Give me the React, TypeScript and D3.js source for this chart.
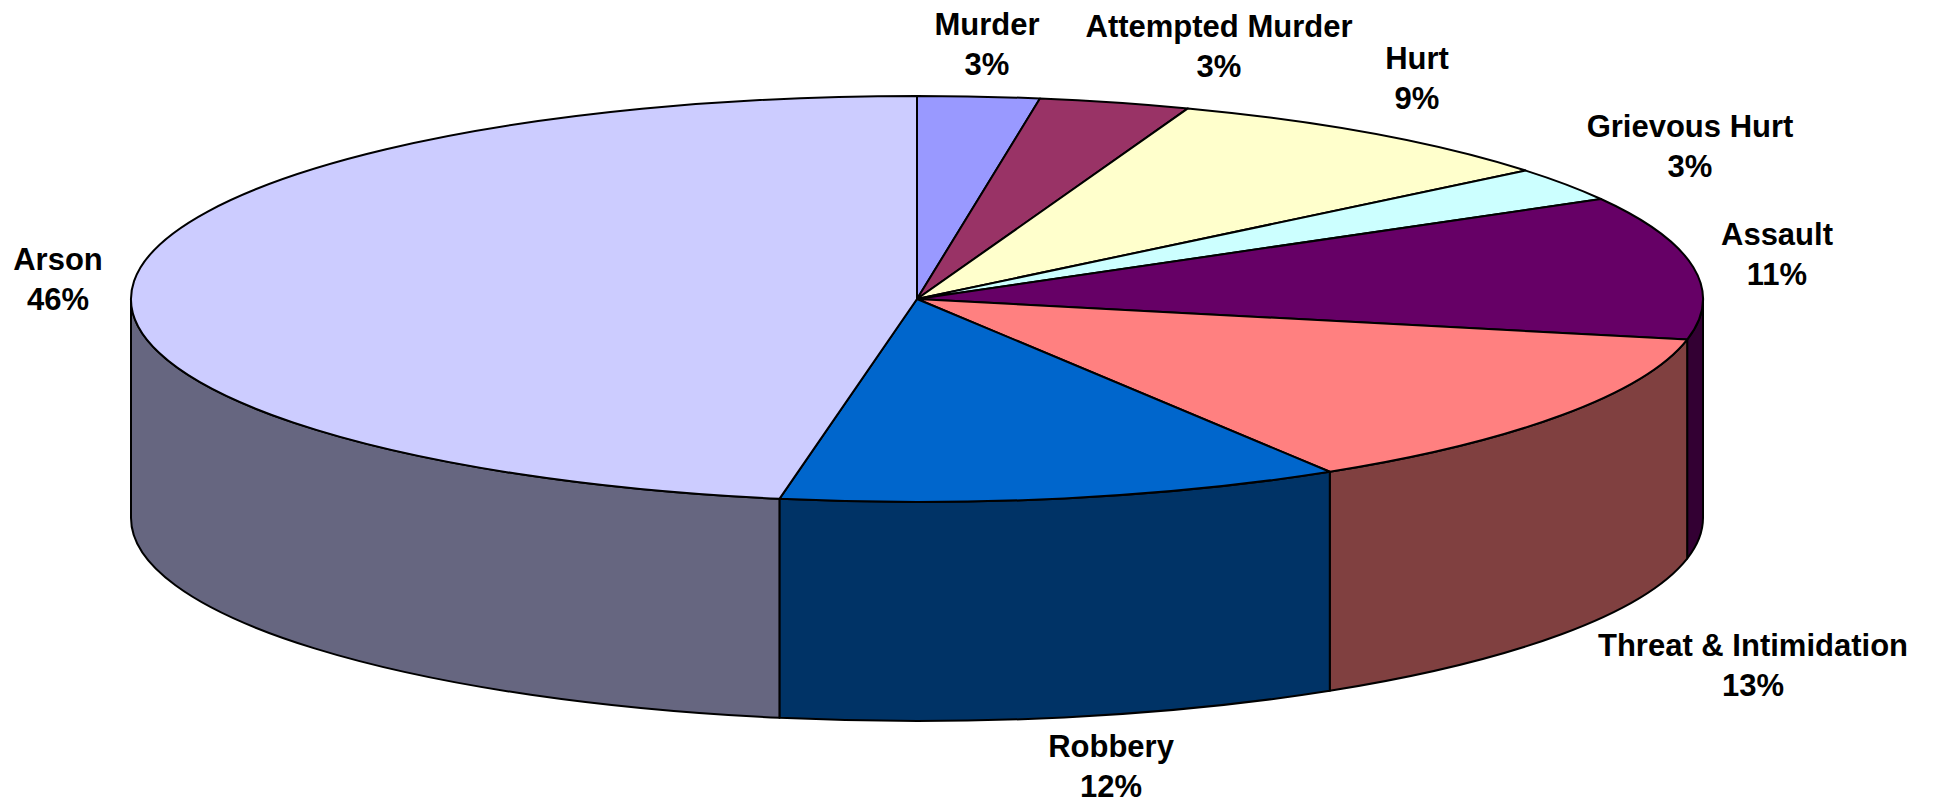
import React, { useEffect, useRef } from "react";
import * as d3 from "d3";

const width = 1941;
const height = 805;

const categories = [
  "Murder",
  "Attempted Murder",
  "Hurt",
  "Grievous Hurt",
  "Assault",
  "Threat & Intimidation",
  "Robbery",
  "Arson",
];
// slice shares as they appear in the picture
const shares = [2.5, 3.1, 8.5, 2.7, 11.4, 13.0, 11.6, 47.2];
// percentages printed on the chart
const pctLabels = ["3%", "3%", "9%", "3%", "11%", "13%", "12%", "46%"];
const colors = [
  "#9999FF",
  "#993366",
  "#FFFFCC",
  "#CCFFFF",
  "#660066",
  "#FF8080",
  "#0066CC",
  "#CCCCFF",
];

// label placement (centre x, first baseline), hand placed in the original
const labelAt = [
  [987, 35],
  [1219, 37],
  [1417, 69],
  [1690, 137],
  [1777, 245],
  [1753, 656],
  [1111, 757],
  [58, 270],
];

const cx = 917;
const cy = 299;
const rx = 786;
const ry = 203;
const depth = 219;

function pt(a: number, dy = 0): string {
  return `${cx + rx * Math.sin(a)},${cy - ry * Math.cos(a) + dy}`;
}

function shade(c: string, k: number): string {
  const rgb = d3.rgb(c);
  return d3.rgb(rgb.r * k, rgb.g * k, rgb.b * k).formatHex();
}

export default function App() {
  const ref = useRef<SVGSVGElement>(null);

  useEffect(() => {
    const svg = d3.select(ref.current);
    svg.selectAll("*").remove();

    const data = categories.map((name, i) => ({
      name,
      value: shares[i],
      color: colors[i],
      label: pctLabels[i],
    }));

    const arcs = d3
      .pie<any>()
      .sort(null)
      .value((d) => d.value)(data);

    // side walls, only the front half of the rim is visible
    const sides = svg.append("g");
    arcs.forEach((d) => {
      const s0 = Math.max(d.startAngle, Math.PI / 2);
      const s1 = Math.min(d.endAngle, (3 * Math.PI) / 2);
      if (s1 <= s0) return;
      sides
        .append("path")
        .attr(
          "d",
          `M${pt(s0)}A${rx},${ry} 0 0 1 ${pt(s1)}L${pt(s1, depth)}A${rx},${ry} 0 0 0 ${pt(s0, depth)}Z`
        )
        .attr("fill", shade(d.data.color, 0.5))
        .attr("stroke", "#000")
        .attr("stroke-width", 2)
        .attr("stroke-linejoin", "round");
    });

    // top faces
    const tops = svg.append("g");
    arcs.forEach((d) => {
      const large = d.endAngle - d.startAngle > Math.PI ? 1 : 0;
      tops
        .append("path")
        .attr(
          "d",
          `M${cx},${cy}L${pt(d.startAngle)}A${rx},${ry} 0 ${large} 1 ${pt(d.endAngle)}Z`
        )
        .attr("fill", d.data.color)
        .attr("stroke", "#000")
        .attr("stroke-width", 2)
        .attr("stroke-linejoin", "round");
    });

    const labels = svg
      .append("g")
      .attr("font-family", "'Liberation Sans', Arial, sans-serif")
      .attr("font-weight", "bold")
      .attr("font-size", 31)
      .attr("text-anchor", "middle")
      .attr("fill", "#000");

    arcs.forEach((d, i) => {
      const [x, y] = labelAt[i];
      const t = labels.append("text").attr("x", x).attr("y", y);
      t.append("tspan").attr("x", x).text(d.data.name);
      t.append("tspan").attr("x", x).attr("dy", 40).text(d.data.label);
    });
  }, []);

  return (
    <svg
      ref={ref}
      width={width}
      height={height}
      style={{ position: "absolute", left: 0, top: 0, background: "#fff" }}
    />
  );
}
